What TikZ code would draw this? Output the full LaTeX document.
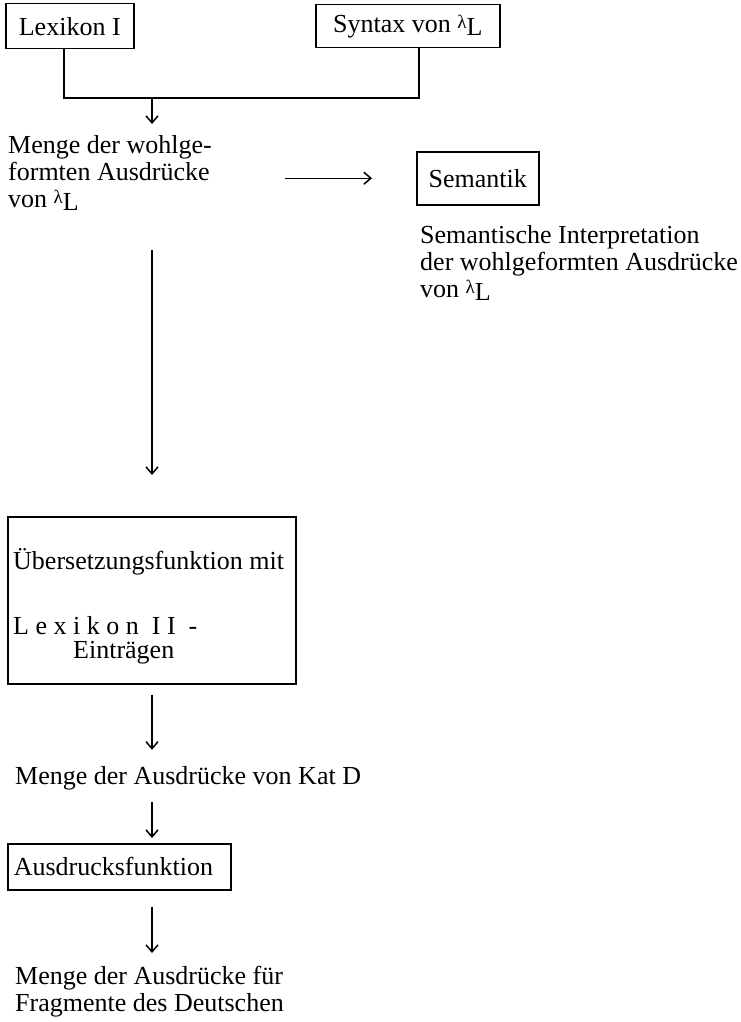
\documentclass[tikz,border=0pt]{standalone}
\usepackage{fontspec}
\setmainfont{Liberation Serif}
\usetikzlibrary{arrows.meta}
% small lambda with the index L set slightly low
\newcommand\lamL{\raisebox{4pt}{\fontsize{19}{19}\selectfont λ}\raisebox{-3pt}{L}}
\begin{document}
\begin{tikzpicture}[x=1pt,y=-1pt,
  txt/.style={inner sep=0pt, font=\fontsize{26}{27}\selectfont, align=left},
  frame/.style={draw, line width=1.5pt, inner sep=0pt, font=\fontsize{26}{27}\selectfont},
  link/.style={line width=1.5pt},
  arr/.style={line width=1.5pt, -{Straight Barb[length=7pt,width=12pt,line width=1.5pt]}}]
\useasboundingbox (0,0) rectangle (741,1022);

% --- top: lexicon and syntax feed the set of well-formed expressions
\node[frame, anchor=north west, minimum width=128pt, minimum height=45pt] (lex1) at (5,3) {Lexikon I};
\node[frame, anchor=north west, minimum width=184pt, minimum height=43pt] (syn) at (315,4) {Syntax von \lamL};
\coordinate (join) at (152,98);

\node[txt, anchor=north west] (menge) at (8,135) {Menge der wohlge-\\formten Ausdrücke\\von \lamL};

\draw[link] ([xshift=-6pt]lex1.south) -- ([xshift=-6pt]lex1.south |- join)
  -- ([xshift=11pt]syn.south |- join) -- ([xshift=11pt]syn.south);
\draw[arr, shorten >=11pt] (join) -- (join |- menge.north);

% --- semantics branch
\node[frame, anchor=north west, minimum width=122pt, minimum height=53pt] (sem) at (416,151) {Semantik};
\node[txt, anchor=north west] (semtxt) at (420,225) {Semantische Interpretation\\der wohlgeformten Ausdrücke\\von \lamL};
\draw[arr, shorten <=73pt, shorten >=44pt] (menge.east |- sem.west) -- (sem.west);

% --- translation into German
\node[frame, anchor=north west, minimum width=288pt, minimum height=167pt] (trans) at (7,516) {};
\node[txt, anchor=base west] (uebers) at (13,569) {Übersetzungsfunktion mit};
\node[txt, anchor=base west] (lex2) at (13,634) {\addfontfeature{LetterSpace=25}Lexikon II -};
\node[txt, anchor=base west] (eintr) at (73,658) {Einträgen};
\draw[arr, shorten <=40pt, shorten >=41pt] (join |- menge.south) -- (join |- trans.north);

\node[txt, anchor=base west] (katd) at (15,784) {Menge der Ausdrücke von Kat D};
\draw[arr, shorten <=10pt, shorten >=16pt] (join |- trans.south) -- (join |- katd.north);

\node[frame, anchor=north west, minimum width=223pt, minimum height=46pt, align=left, text width=211pt] (ausdr) at (7,843) {Ausdrucksfunktion};
\draw[arr, shorten <=12pt, shorten >=5pt] (join |- katd.south) -- (join |- ausdr.north);

\node[txt, anchor=north west] (frag) at (15,966) {Menge der Ausdrücke für\\Fragmente des Deutschen};
\draw[arr, shorten <=16pt, shorten >=13pt] (join |- ausdr.south) -- (join |- frag.north);
\end{tikzpicture}
\end{document}
